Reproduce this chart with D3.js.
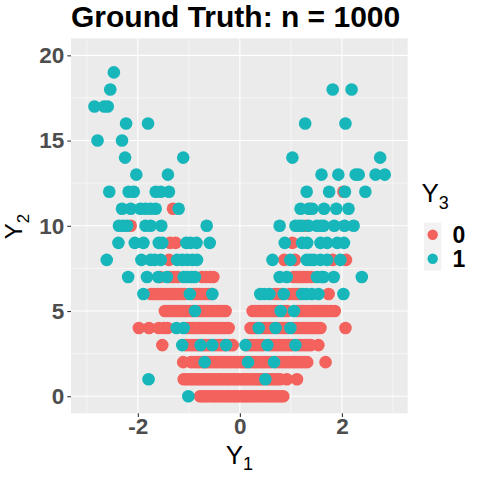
<!DOCTYPE html>
<html>
<head>
<meta charset="utf-8">
<script src="https://d3js.org/d3.v7.min.js"></script>
<style>
  body { margin: 0; background: #fff; }
  text { font-family: "Liberation Sans", Arial, sans-serif; }
</style>
</head>
<body>
<script>
// x-values (Y1) of the points on each Y2 level 0..19, one list per class of Y3
var class0 = [
  [-0.78,-0.73,-0.67,-0.62,-0.55,-0.5,-0.44,-0.39,-0.33,-0.27,-0.22,-0.16,-0.1,-0.05,0.01,0.07,0.12,0.18,0.24,0.29,0.35,0.41,0.46,0.52,0.57,0.63,0.68,0.74,0.8,0.85],
  [-1.1,-1.04,-0.98,-0.93,-0.87,-0.81,-0.76,-0.7,-0.64,-0.58,-0.53,-0.47,-0.41,-0.36,-0.3,-0.24,-0.19,-0.13,-0.07,-0.02,0.04,0.1,0.15,0.21,0.27,0.33,0.38,0.44,0.55,0.61,0.67,0.73,0.79,0.92,1.12],
  [-1.11,-0.96,-0.9,-0.84,-0.79,-0.73,-0.67,-0.62,-0.56,-0.5,-0.45,-0.39,-0.33,-0.28,-0.22,-0.16,-0.1,-0.05,0.01,0.07,0.12,0.2,0.26,0.31,0.37,0.43,0.48,0.54,0.6,0.72,0.78,0.84,0.9,0.96,1.02,1.08,1.14,1.2,1.26,1.32,1.68],
  [-1.52,-1.06,-1.0,-0.94,-0.88,-0.82,-0.72,-0.66,-0.6,-0.48,-0.42,-0.36,-0.3,-0.2,-0.14,0.15,0.21,0.27,0.33,0.39,0.45,0.6,0.66,0.72,0.78,0.84,0.9,0.96,1.02,1.15,1.21,1.27,1.33,1.39,1.54],
  [-1.98,-1.78,-1.59,-1.49,-1.42,-1.04,-0.98,-0.92,-0.86,-0.8,-0.74,-0.68,-0.62,-0.56,-0.5,-0.44,-0.38,-0.32,-0.27,-0.22,0.21,0.27,0.32,0.44,0.5,0.56,0.62,0.76,0.82,0.88,0.94,1.05,1.11,1.17,1.23,1.29,1.35,1.41,1.47,1.53,1.58,2.07],
  [-1.47,-1.41,-1.35,-1.29,-1.23,-1.17,-1.11,-1.05,-0.99,-0.93,-0.82,-0.76,-0.7,-0.64,-0.58,-0.52,-0.46,-0.4,-0.34,-0.28,0.25,0.31,0.37,0.43,0.49,0.55,0.61,0.67,0.73,0.87,0.93,1.12,1.18,1.24,1.3,1.36,1.42,1.48,1.54,1.6,1.66,1.72,1.78,1.86],
  [-1.74,-1.68,-1.62,-1.56,-1.5,-1.44,-1.38,-1.32,-1.26,-1.2,-1.14,-1.08,-0.91,-0.85,-0.79,-0.73,-0.67,-0.61,-0.55,0.68,0.74,0.82,0.98,1.04,1.1,1.16,1.74],
  [-1.56,-1.37,-1.3,-1.22,-0.74,-0.66,-0.58,-0.52,1.05,1.12,1.18,1.25,1.32,1.4],
  [-1.39,0.87,1.08,1.82,2.08],
  [-1.37,-1.26,1.03],
  [-2.14,1.3],
  [-1.31,1.38],
  [2.03],
  [], [], [], [], [], [], []
];
var class1 = [
  [-1.01],
  [-1.79,0.5],
  [-0.69,0.16,0.67],
  [-1.13,-0.77,-0.54,-0.27,0.11,0.54,1.09],
  [-1.24,-1.1,0.37,0.7,0.99],
  [-0.88,0.8,1.06],
  [-1.89,-0.98,-0.54,0.4,0.48,0.58,0.86,1.22,1.3,1.41,1.54,2.03],
  [-2.19,-1.82,-1.6,-1.43,-1.1,-1.02,-0.95,-0.88,0.78,0.92,1.51,1.6,1.64,1.84,2.39],
  [-2.61,-1.93,-1.75,-1.67,-1.55,-1.23,-1.13,-1.03,-0.93,-0.84,0.64,0.99,1.31,1.38,1.45,1.58,1.71,1.97],
  [-2.38,-2.06,-1.89,-1.59,-1.52,-1.05,-0.97,-0.85,-0.59,0.88,1.22,1.32,1.58,1.71,1.91,2.04],
  [-2.37,-2.29,-2.21,-1.85,-1.75,-1.54,-0.65,0.78,1.09,1.16,1.22,1.35,1.51,1.58,1.64,1.85,2.05,2.23],
  [-2.31,-2.14,-1.95,-1.85,-1.75,-1.65,-1.2,1.19,1.35,1.42,1.65,1.89,2.13],
  [-2.56,-2.18,-2.08,-1.65,-1.55,-1.39,1.31,1.75,2.06,2.46],
  [-2.03,-1.41,1.6,1.93,2.27,2.33,2.66,2.84],
  [-2.25,-1.11,1.03,2.75],
  [-2.79,-2.31],
  [-2.23,-1.8,1.28,2.07],
  [-2.85,-2.66,-2.59],
  [-2.54,1.82,2.19],
  [-2.47]
];
var classes = ["0", "1"];
var colors = ["#F4625E", "#17B6BA"];
var xTicks = [-2, 0, 2];
var yTicks = [0, 5, 10, 15, 20];
var xMinor = [-3, -1, 1, 3];
var yMinor = [2.5, 7.5, 12.5, 17.5];

var points = [];
[class0, class1].forEach(function(rows, c) {
  rows.forEach(function(xs, level) {
    xs.forEach(function(v) { points.push({x: v, y: level, c: c}); });
  });
});

var svg = d3.select("body").append("svg")
    .attr("width", 480)
    .attr("height", 480);

var pL = 71, pR = 407.7, pT = 38.3, pB = 413.3;

var x = d3.scaleLinear().domain([-3.31, 3.29]).range([pL, pR]);
var y = d3.scaleLinear().domain([-1, 21]).range([pB, pT]);

svg.append("rect")
    .attr("x", pL).attr("y", pT)
    .attr("width", pR - pL).attr("height", pB - pT)
    .attr("fill", "#EBEBEB");

// grid
var grid = svg.append("g").attr("stroke", "#fff");
grid.selectAll(".vmin").data(xMinor).enter().append("line")
    .attr("x1", d => x(d)).attr("x2", d => x(d))
    .attr("y1", pT).attr("y2", pB).attr("stroke-width", 0.55);
grid.selectAll(".hmin").data(yMinor).enter().append("line")
    .attr("y1", d => y(d)).attr("y2", d => y(d))
    .attr("x1", pL).attr("x2", pR).attr("stroke-width", 0.55);
grid.selectAll(".vmaj").data(xTicks).enter().append("line")
    .attr("x1", d => x(d)).attr("x2", d => x(d))
    .attr("y1", pT).attr("y2", pB).attr("stroke-width", 1.1);
grid.selectAll(".hmaj").data(yTicks).enter().append("line")
    .attr("y1", d => y(d)).attr("y2", d => y(d))
    .attr("x1", pL).attr("x2", pR).attr("stroke-width", 1.1);

// points: class 0 first, class 1 on top
svg.append("g").selectAll("circle")
    .data(points)
    .enter().append("circle")
    .attr("cx", d => x(d.x))
    .attr("cy", d => y(d.y))
    .attr("r", 6.3)
    .attr("fill", d => colors[d.c]);

// axes
var xAxis = svg.append("g")
    .attr("transform", "translate(0," + pB + ")")
    .call(d3.axisBottom(x).tickValues(xTicks).tickSize(3.7).tickPadding(1).tickFormat(d3.format("d")));
var yAxis = svg.append("g")
    .attr("transform", "translate(" + pL + ",0)")
    .call(d3.axisLeft(y).tickValues(yTicks).tickSize(3.7).tickPadding(3).tickFormat(d3.format("d")));
[xAxis, yAxis].forEach(function(a) {
  a.select(".domain").remove();
  a.selectAll(".tick line").attr("stroke", "#333333").attr("stroke-width", 1.1);
  a.selectAll(".tick text")
      .attr("fill", "#4D4D4D")
      .style("font-family", "'Liberation Sans', Arial, sans-serif")
      .style("font-size", "22.5px")
      .style("font-weight", "bold");
});
xAxis.selectAll(".tick text").text(d => d < 0 ? "-" + Math.abs(d) : d);

// title
svg.append("text")
    .attr("x", pL).attr("y", 27)
    .style("font-size", "30px").style("font-weight", "bold")
    .attr("fill", "#000")
    .text("Ground Truth: n = 1000");

function subLabel(sel, main, sub, size) {
  sel.append("tspan").style("font-size", size + "px").text(main);
  sel.append("tspan").style("font-size", Math.round(size * 0.7) + "px").attr("dy", 6.5).text(sub);
}

var xt = svg.append("text")
    .attr("x", (pL + pR) / 2).attr("y", 463.5)
    .attr("text-anchor", "middle").attr("fill", "#000");
subLabel(xt, "Y", "1", 26);

var yt = svg.append("text")
    .attr("transform", "translate(22,226.5) rotate(-90)")
    .attr("text-anchor", "middle").attr("fill", "#000");
subLabel(yt, "Y", "2", 24);

// legend
var lt = svg.append("text")
    .attr("x", 421.5).attr("y", 202).attr("fill", "#000");
subLabel(lt, "Y", "3", 26);

var legend = svg.append("g");
legend.append("rect")
    .attr("x", 424).attr("y", 222.7)
    .attr("width", 17.3).attr("height", 48)
    .attr("fill", "#F2F2F2");
classes.forEach(function(k, i) {
  legend.append("circle")
      .attr("cx", 432.7).attr("cy", 234.7 + i * 24)
      .attr("r", 5.2)
      .attr("fill", colors[i]);
  legend.append("text")
      .attr("x", 452.5).attr("y", 234.7 + i * 24 + 8.5)
      .style("font-size", "23px").style("font-weight", "bold")
      .attr("fill", "#000")
      .text(k);
});
</script>
</body>
</html>
